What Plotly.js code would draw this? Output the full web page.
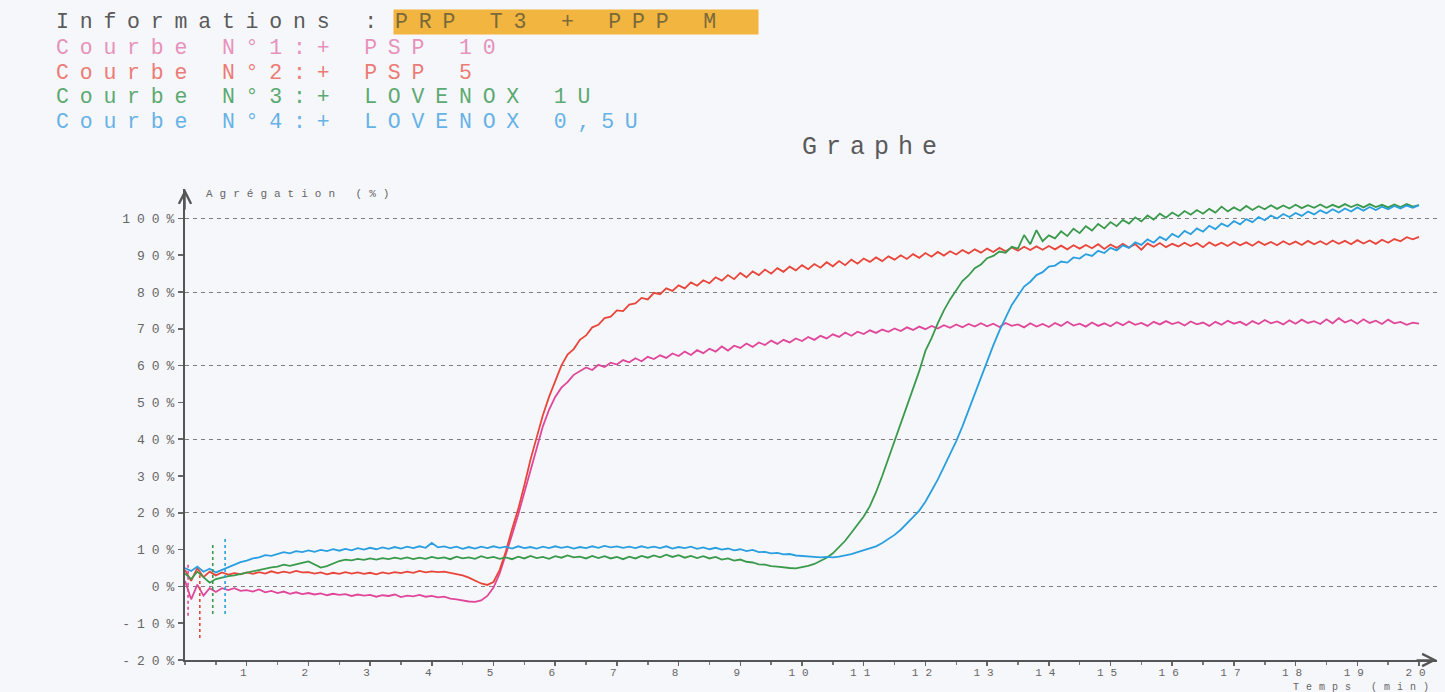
<!DOCTYPE html>
<html>
<head>
<meta charset="utf-8">
<script src="https://cdn.plot.ly/plotly-3.0.1.min.js"></script>
<style>
  html, body { margin: 0; padding: 0; background: #f6f7fb; }
  #chart { width: 1445px; height: 692px; }
  .main-svg text { letter-spacing: 7px; }
  .main-svg text[style*="font-size: 25px"] { letter-spacing: 9px; }
  .main-svg text[style*="font-size: 21.5px"] { letter-spacing: 10.8px; }
</style>
</head>
<body>
<div id="chart"></div>
<script>
// ---------------- DATA ----------------
const TIME_START = 0;      // min
const TIME_STEP = 0.1;     // min between samples

const seriesNames = ["Courbe N°1:+ PSP 10", "Courbe N°2:+ PSP 5", "Courbe N°3:+ LOVENOX 1U", "Courbe N°4:+ LOVENOX 0,5U"];

// Courbe N°1 : PSP 10 (pink), agrégation % every 0.1 min from 0 to 20
const psp10 = [
 1.5,-3.5,0.5,-2.5,-0.5,-1.5,-0.5,-1.0,-0.5,-1.2,
 -1.0,-1.4,-0.8,-1.6,-1.2,-1.8,-1.4,-2.0,-1.6,-2.1,
 -1.8,-2.2,-1.9,-2.4,-2.0,-2.3,-2.1,-2.6,-2.2,-2.5,
 -2.3,-2.8,-2.4,-2.6,-2.2,-2.9,-2.5,-2.7,-2.3,-2.8,
 -2.6,-3.0,-2.8,-3.3,-3.5,-3.9,-4.1,-4.2,-3.8,-2.6,
 -0.3,3.5,8.5,14.0,19.5,25.5,32.0,38.0,43.5,48.0,
 51.5,54.0,55.5,57.5,58.5,59.5,58.8,60.2,59.6,60.8,
 60.3,61.5,60.9,62.0,61.2,62.4,61.8,62.8,62.1,63.3,
 62.6,63.8,62.9,64.2,63.4,64.6,63.8,65.2,64.1,65.4,
 64.8,66.0,65.1,66.3,65.6,66.8,65.9,67.0,66.3,67.4,
 66.7,67.8,67.0,68.1,67.4,68.5,67.8,69.0,68.1,69.2,
 68.6,69.6,68.9,69.8,69.2,70.1,69.4,70.4,69.7,70.6,
 69.9,70.8,70.1,71.0,70.3,71.2,70.4,71.3,70.6,71.5,
 70.7,71.4,70.5,71.6,70.8,71.2,70.4,71.5,70.6,71.3,
 70.5,71.6,70.8,71.9,70.9,71.4,70.6,71.7,70.8,71.5,
 70.7,71.8,71.0,72.0,71.1,71.6,70.8,71.9,71.2,72.1,
 71.3,71.8,70.9,72.0,71.2,71.7,70.8,71.9,71.1,72.2,
 71.4,71.9,71.0,72.1,71.3,72.4,71.5,72.0,71.2,72.3,
 71.4,72.5,71.6,72.1,71.3,72.6,71.5,72.9,71.7,72.4,
 71.4,72.6,71.6,72.2,71.3,72.5,71.5,71.9,71.1,71.7,
 71.4
];

// Courbe N°2 : PSP 5 (red)
const psp5 = [
 4.5,1.5,5.0,2.5,4.0,3.0,3.8,3.2,3.6,3.3,
 3.8,3.4,3.9,3.5,4.1,3.6,4.0,3.7,4.2,3.8,
 3.9,3.5,3.8,3.3,3.7,3.4,3.9,3.5,3.8,3.4,
 3.7,3.3,3.8,3.5,3.9,3.6,4.0,3.7,4.2,3.8,
 4.1,3.9,4.0,3.7,3.5,3.0,2.4,1.6,0.8,0.4,
 1.2,4.5,9.5,15.5,21.0,27.5,34.5,40.5,46.5,51.5,
 56.0,60.0,63.0,64.5,67.0,68.2,70.4,71.1,72.9,73.3,
 75.0,74.8,76.6,76.9,78.4,78.0,79.8,79.4,81.0,80.3,
 81.8,81.0,82.6,81.7,83.2,82.4,84.0,83.1,84.6,83.5,
 85.2,84.0,85.6,84.6,86.1,85.0,86.5,85.5,86.9,85.9,
 87.3,86.2,87.6,86.6,88.1,87.0,88.4,87.3,88.8,87.7,
 89.1,88.2,89.4,88.4,89.7,88.8,90.0,89.0,90.3,89.3,
 90.6,89.6,90.9,89.9,91.1,90.2,91.4,90.5,91.6,90.7,
 91.8,90.9,92.0,91.1,92.1,91.2,92.3,91.4,92.4,91.5,
 92.5,91.6,92.6,91.6,92.7,91.8,92.8,91.9,93.0,91.7,
 92.9,92.0,93.1,92.1,93.0,91.5,93.2,92.3,93.3,92.2,
 93.1,92.4,93.4,92.5,93.3,92.2,93.5,92.6,93.4,92.5,
 93.6,92.7,93.5,92.6,93.7,92.8,93.6,92.7,93.8,92.9,
 93.7,92.8,93.9,93.0,93.8,92.9,94.0,93.1,93.9,93.0,
 94.1,93.2,94.0,93.1,94.2,93.4,94.4,93.8,94.9,94.3,
 95.0
];

// Courbe N°3 : LOVENOX 1U (green)
const lovenox1 = [
 3.5,2.0,4.0,2.5,1.0,2.0,2.5,2.8,3.0,3.4,
 3.7,4.1,4.4,4.9,5.2,5.4,5.9,5.6,6.1,6.4,
 6.8,5.9,5.1,5.5,6.2,6.9,7.3,7.1,7.5,7.2,
 7.6,7.3,7.7,7.4,7.8,7.5,7.9,7.4,7.8,7.5,
 8.0,7.6,7.9,7.4,8.1,7.6,7.9,7.5,8.2,7.7,
 8.0,7.5,7.9,7.4,8.1,7.6,8.3,7.7,8.0,7.5,
 8.2,7.8,8.4,7.9,8.1,7.6,8.3,7.7,8.2,7.6,
 8.0,7.4,8.1,7.6,8.3,7.8,8.4,7.9,8.6,8.0,
 8.5,7.8,8.3,7.7,8.2,7.6,8.0,7.3,7.6,7.0,
 7.3,6.7,6.5,6.0,5.9,5.5,5.4,5.1,5.0,4.9,
 5.2,5.6,6.1,6.9,7.8,9.0,10.6,12.4,14.6,16.8,
 19.0,21.8,25.6,30.0,34.8,39.5,44.0,49.0,53.8,58.5,
 64.0,67.5,71.5,75.0,78.0,80.5,83.0,84.5,86.5,87.5,
 89.2,89.8,91.0,90.7,92.3,91.8,95.5,93.0,96.8,93.8,
 95.4,94.6,96.5,95.2,97.2,96.0,97.9,96.7,98.5,97.3,
 99.0,97.9,99.6,98.6,100.3,99.2,100.8,99.7,101.3,100.2,
 101.6,100.6,102.0,101.0,102.3,101.3,102.6,101.6,103.2,101.9,
 103.0,102.1,103.4,102.3,103.3,102.5,103.6,102.6,103.5,102.7,
 103.7,102.8,103.6,102.9,103.8,102.9,103.7,103.0,103.9,103.1,
 103.8,103.0,103.9,103.1,103.7,103.0,103.8,103.1,103.9,103.2,
 103.6
];

// Courbe N°4 : LOVENOX 0,5U (blue)
const lovenox05 = [
 5.0,4.2,5.4,4.0,4.8,3.8,4.5,5.2,6.0,6.6,
 7.0,7.6,7.9,8.5,8.3,8.9,9.3,9.0,9.6,9.3,
 9.8,9.4,9.9,9.6,10.1,9.7,10.2,9.8,10.4,10.0,
 10.5,10.1,10.6,10.2,10.7,10.3,10.8,10.4,10.9,10.5,
 11.8,10.6,10.9,10.4,10.8,10.2,10.7,10.3,10.8,10.4,
 10.9,10.5,10.8,10.3,10.9,10.4,10.7,10.3,10.8,10.4,
 10.9,10.5,10.8,10.3,10.7,10.4,10.9,10.5,11.0,10.6,
 10.9,10.5,10.8,10.4,10.9,10.5,10.8,10.4,10.9,10.3,
 10.7,10.4,10.8,10.2,10.6,10.1,10.5,10.0,10.3,9.8,
 10.1,9.6,9.9,9.3,9.4,9.0,9.1,8.7,8.8,8.4,
 8.3,8.0,8.1,7.9,8.0,7.9,8.1,8.4,8.8,9.3,
 9.8,10.3,10.9,11.8,12.8,14.0,15.4,17.0,18.8,20.6,
 23.0,26.0,29.0,32.5,36.0,39.5,43.5,48.0,52.5,57.0,
 61.0,65.5,69.5,73.0,76.5,79.0,81.5,82.8,84.6,85.4,
 86.9,87.2,88.3,88.0,89.4,89.1,90.3,89.8,91.2,90.6,
 92.0,91.3,92.7,92.0,93.5,92.8,94.3,93.4,95.0,94.1,
 95.8,94.9,96.6,95.7,97.3,96.4,98.0,97.1,98.6,97.8,
 99.3,98.4,99.8,99.0,100.4,99.5,100.8,100.0,101.2,100.4,
 101.5,100.7,101.9,101.1,102.2,101.4,102.5,101.6,102.7,101.9,
 103.0,102.1,103.1,102.3,103.2,102.5,103.4,102.7,103.5,102.9,
 103.6
];

// injection marks (dashed vertical strokes at the start)
const markTimes = [0.05, 0.24, 0.45, 0.65];
const markLow   = [-8, -14, -7.5, -7.5];
const markHigh  = [6, 3, 11.5, 13];

const xTickVals = [1,2,3,4,5,6,7,8,9,10,11,12,13,14,15,16,17,18,19,20];
const yTickVals = [-20,-10,0,10,20,30,40,50,60,70,80,90,100];
const yTickText = ["-20%","-10%","0%","10%","20%","30%","40%","50%","60%","70%","80%","90%","100%"];

// ---------------- STYLE ----------------
const FONT = "Liberation Mono, DejaVu Sans Mono, monospace";
const lineColors = ["#e0479a", "#e8463a", "#3a9a4c", "#2a9fe0"];
const textColors = ["#e692bb", "#ec7b76", "#5caa72", "#67b2e6"];
const W = 1445, H = 692;
const M = {l: 185, r: 8, t: 189, b: 32};
const PW = W - M.l - M.r, PH = H - M.t - M.b;
const px = v => (v - M.l) / PW;
const py = v => (H - M.b - v) / PH;

const series = [psp10, psp5, lovenox1, lovenox05];
const traces = series.map((ys, i) => ({
  type: "scatter", mode: "lines", name: seriesNames[i],
  y: ys, x0: TIME_START, dx: TIME_STEP,
  line: {color: lineColors[i], width: 1.8},
  hoverinfo: "skip"
}));
markTimes.forEach((t, i) => {
  traces.push({
    type: "scatter", mode: "lines", xaxis: "x", yaxis: "y2",
    x: [t, t], y: [markLow[i], markHigh[i]],
    line: {color: lineColors[i], width: 1.6, dash: "3px,3px"},
    hoverinfo: "skip", showlegend: false
  });
});

const annFont = (size, color) => ({family: FONT, size: size, color: color});
const leftText = (xp, yp, text, size, color, extra) => Object.assign({
  xref: "paper", yref: "paper", x: px(xp), y: py(yp), xanchor: "left", yanchor: "middle",
  align: "left", text: text, showarrow: false, font: annFont(size, color), borderpad: 0
}, extra || {});

const HEAD = 21.5;
const annotations = [
  leftText(55, 22, "Informations :", HEAD, "#5a5a5a"),
  leftText(393, 22, "PRP T3 + PPP M", HEAD, "#7a6a3a",
           {bgcolor: "#f2b540", width: 362, height: 22, borderpad: 1})
];
seriesNames.forEach((n, i) => {
  annotations.push(leftText(55, 48 + i * 24.7, n, HEAD, textColors[i]));
});
annotations.push(
  leftText(205, 194, "Agrégation (%)", 11, "#666"),
  leftText(1292, 687, "Temps (min)", 10, "#666"),
  {xref: "paper", yref: "paper", x: 0, y: 1, ax: 0, ay: 22, text: "", showarrow: true,
   arrowhead: 5, arrowsize: 1.6, arrowwidth: 1.5, arrowcolor: "#555"},
  {xref: "paper", yref: "paper", x: 1, y: 0, ax: -22, ay: 0, text: "", showarrow: true,
   arrowhead: 5, arrowsize: 1.6, arrowwidth: 1.5, arrowcolor: "#555"}
);

const layout = {
  width: W, height: H,
  margin: M,
  paper_bgcolor: "#f6f7fb", plot_bgcolor: "#f6f7fb",
  showlegend: false,
  font: {family: FONT, color: "#666"},
  title: {text: "Graphe", font: {family: FONT, size: 25, color: "#5a5a5a"},
          xref: "container", yref: "container", x: 874 / W, xanchor: "center",
          y: 1 - 145 / H, yanchor: "middle"},
  xaxis: {range: [0, PW / 61.7], tickmode: "array", tickvals: xTickVals,
          showgrid: false, zeroline: false, showline: true, linecolor: "#555", linewidth: 2,
          ticks: "outside", ticklen: 4, tickcolor: "#666", tickwidth: 1.5,
          ticklabelstandoff: -3,
          tickfont: {family: FONT, size: 11, color: "#666"},
          minor: {dtick: 0.5, tick0: 0, ticks: "outside", ticklen: 3, tickcolor: "#777", showgrid: false}},
  yaxis: {range: [-20, 108], tickmode: "array", tickvals: yTickVals, ticktext: yTickText,
          showgrid: false, zeroline: false, showline: true, linecolor: "#555", linewidth: 2,
          ticks: "outside", ticklen: 5, tickcolor: "#666", tickwidth: 1.5,
          ticklabelstandoff: -6,
          tickfont: {family: FONT, size: 13, color: "#666"}},
  yaxis2: {range: [-20, 108], overlaying: "y", side: "left", tick0: -20, dtick: 20,
           showgrid: true, griddash: "4px,4px", gridcolor: "#7e7e7e", gridwidth: 1,
           showticklabels: false, ticks: "", zeroline: false, showline: false},
  annotations: annotations
};

Plotly.newPlot("chart", traces, layout, {displayModeBar: false, staticPlot: true});
</script>
</body>
</html>
